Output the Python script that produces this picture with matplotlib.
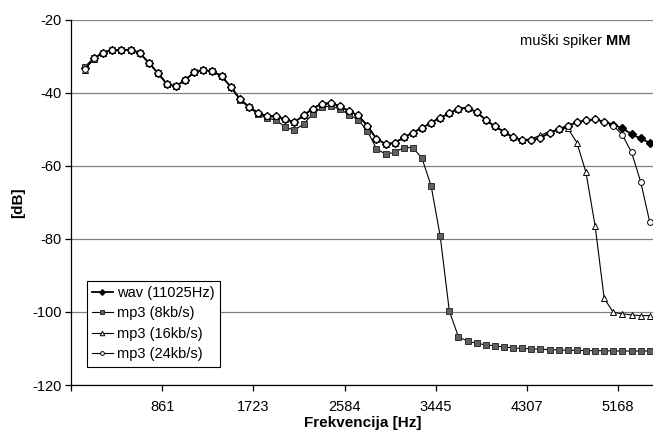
import numpy as np
import matplotlib
matplotlib.use("Agg")
import matplotlib.pyplot as plt

plt.rcParams["font.family"] = ["Liberation Sans", "DejaVu Sans"]
plt.rcParams["axes.unicode_minus"] = False

# spectrum bins of an 11025 Hz signal (128-point FFT), bins 1..63
DF = 11025 / 128
bins = np.arange(1, 64)
freq = bins * DF

wav = [-33.3, -30.5, -29.0, -28.3, -28.2, -28.2, -29.1, -31.7, -34.6, -37.6,
       -38.2, -36.4, -34.4, -33.8, -34.0, -35.5, -38.3, -41.7, -43.8, -45.5,
       -46.4, -46.4, -47.3, -48.0, -46.2, -44.3, -43.0, -42.8, -43.7, -45.0,
       -46.2, -49.0, -52.6, -54.0, -53.7, -52.2, -50.9, -49.6, -48.2, -46.8,
       -45.6, -44.3, -44.1, -45.3, -47.4, -49.2, -50.6, -52.2, -52.9, -53.0,
       -52.3, -51.0, -50.0, -49.0, -48.1, -47.5, -47.3, -47.9, -48.7, -49.7,
       -51.3, -52.5, -53.7]
mp3_8 = [-32.8, -30.4, -29.0, -28.3, -28.2, -28.2, -29.1, -31.7, -34.6, -37.6,
         -38.2, -36.4, -34.4, -33.8, -34.0, -35.5, -38.3, -41.9, -44.0, -45.8,
         -46.9, -47.5, -49.4, -50.3, -48.5, -45.8, -44.0, -43.6, -44.5, -46.0,
         -47.4, -50.4, -55.3, -56.8, -56.3, -55.0, -55.0, -57.9, -65.5, -79.3,
         -99.8, -106.8, -108.0, -108.6, -109.0, -109.3, -109.6, -109.8, -110.0, -110.1,
         -110.2, -110.3, -110.4, -110.5, -110.5, -110.6, -110.6, -110.6, -110.7, -110.7,
         -110.7, -110.7, -110.7]
mp3_16 = [-33.7, -30.6, -29.0, -28.3, -28.2, -28.2, -29.1, -31.7, -34.6, -37.6,
          -38.2, -36.4, -34.4, -33.8, -34.0, -35.5, -38.3, -41.7, -43.8, -45.5,
          -46.4, -46.4, -47.3, -48.0, -46.2, -44.3, -43.0, -42.8, -43.7, -45.0,
          -46.2, -49.0, -52.6, -54.0, -53.7, -52.2, -50.9, -49.6, -48.2, -46.8,
          -45.6, -44.3, -44.1, -45.3, -47.4, -49.2, -50.6, -52.2, -52.9, -52.6,
          -51.6, -50.6, -50.0, -49.7, -53.6, -61.8, -76.4, -96.3, -100.1, -100.5,
          -100.8, -101.0, -101.0]
mp3_24 = [-33.4, -30.5, -29.0, -28.3, -28.2, -28.2, -29.1, -31.7, -34.6, -37.6,
          -38.2, -36.4, -34.4, -33.8, -34.0, -35.5, -38.3, -41.7, -43.8, -45.5,
          -46.4, -46.4, -47.3, -48.0, -46.2, -44.3, -43.0, -42.8, -43.7, -45.0,
          -46.2, -49.0, -52.6, -54.0, -53.7, -52.2, -50.9, -49.6, -48.2, -46.8,
          -45.6, -44.3, -44.1, -45.3, -47.4, -49.2, -50.6, -52.2, -52.9, -53.0,
          -52.3, -51.0, -50.0, -49.0, -48.1, -47.5, -47.3, -47.9, -49.0, -51.5,
          -56.3, -64.3, -75.4]

series_names = ["wav (11025Hz)", "mp3 (8kb/s)", "mp3 (16kb/s)", "mp3 (24kb/s)"]
tick_labels = ["", "861", "1723", "2584", "3445", "4307", "5168"]
y_ticks = [-120, -100, -80, -60, -40, -20]

W, H = 653, 436
fig = plt.figure(figsize=(W / 100, H / 100), dpi=100)
ax = fig.add_axes([71.3 / W, 51 / H, 583 / W, 365.2 / H])

# Excel-style category axis: ticks sit on bin boundaries, every 10 bins
ax.set_xlim(-0.5 * DF, 63.5 * DF)
ax.set_xticks([(10 * i - 0.5) * DF for i in range(len(tick_labels))])
ax.set_xticklabels(tick_labels)
ax.set_ylim(-120, -20)
ax.set_yticks(y_ticks)
ax.yaxis.grid(True, color="#808080", lw=0.9)
ax.set_axisbelow(True)
for s in ("top", "right"):
    ax.spines[s].set_visible(False)
for s in ("left", "bottom"):
    ax.spines[s].set_linewidth(0.9)
ax.tick_params(direction="out", length=4, width=0.9, labelsize=10.5, pad=3)
ax.tick_params(axis="x", pad=7)

ax.plot(freq, wav, "-", color="black", lw=1.3, marker="D", ms=4.3,
        mfc="black", mec="black", label=series_names[0], zorder=3)
ax.plot(freq, mp3_8, "-", color="black", lw=0.8, marker="s", ms=4.8,
        mfc="#606060", mec="#303030", mew=0.7, label=series_names[1], zorder=4)
ax.plot(freq, mp3_16, "-", color="black", lw=0.8, marker="^", ms=5,
        mfc="white", mec="black", mew=0.7, label=series_names[2], zorder=5)
ax.plot(freq, mp3_24, "-", color="black", lw=0.8, marker="o", ms=4.2,
        mfc="white", mec="black", mew=0.7, label=series_names[3], zorder=6)

ax.set_xlabel("Frekvencija [Hz]", fontsize=11, fontweight="bold", labelpad=1)
ax.set_ylabel("[dB]", fontsize=11, fontweight="bold", labelpad=5)

t1 = fig.text(520 / W, 1 - 41 / H, "muški spiker ", fontsize=10.5, va="center")
ax.annotate("MM", xy=(1, 0.5), xycoords=t1, va="center", fontsize=10.5,
            fontweight="bold")

leg = ax.legend(loc="upper left", bbox_to_anchor=(86.7 / W, 1 - 280.7 / H),
                bbox_transform=fig.transFigure, borderaxespad=0, fontsize=10.5,
                handlelength=1.45, handletextpad=0.3, borderpad=0.35,
                labelspacing=0.45, markerscale=0.65, fancybox=False,
                framealpha=1, edgecolor="black")
leg.get_frame().set_linewidth(0.8)

fig.savefig("out.png", dpi=100)
